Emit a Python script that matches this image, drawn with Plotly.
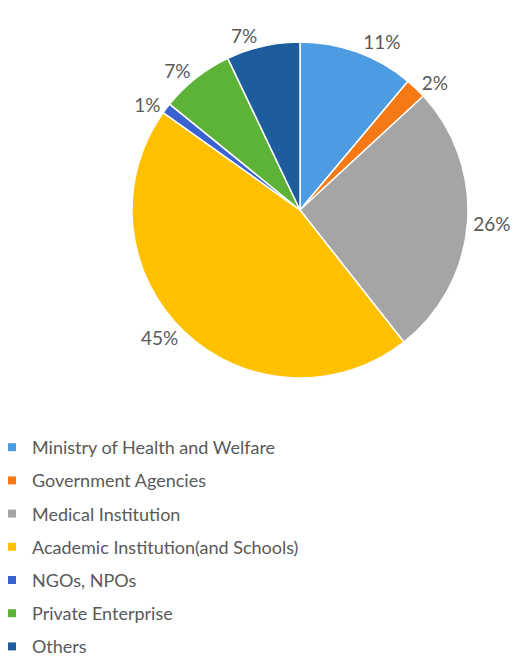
import plotly.graph_objects as go

# Share of respondents by type of organization (%)
labels = [
    "Ministry of Health and Welfare",
    "Government Agencies",
    "Medical Institution",
    "Academic Institution(and Schools)",
    "NGOs, NPOs",
    "Private Enterprise",
    "Others",
]
values = [11, 2, 26, 45, 1, 7, 7]
colors = ["#4D9BE0", "#F57A16", "#A5A5A5", "#FFC000", "#3A62D0", "#5DB338", "#1D5D9E"]

W, H = 524, 657
FONT = "Lato"
TEXT_COLOR = "#595959"

fig = go.Figure()

fig.add_trace(go.Pie(
    labels=labels,
    values=values,
    sort=False,
    direction="clockwise",
    rotation=0,
    marker=dict(colors=colors, line=dict(color="white", width=1.5)),
    texttemplate="%{value}%",
    textposition="outside",
    textfont=dict(family=FONT, size=19, color=TEXT_COLOR),
    showlegend=False,
    hoverinfo="label+value",
    domain=dict(x=[132 / W, 468 / W], y=[1 - 378 / H, 1 - 42 / H]),
))

# Legend entries, one group each so the rows can be spaced out
for i, (lab, col) in enumerate(zip(labels, colors)):
    fig.add_trace(go.Scatter(
        x=[None], y=[None],
        mode="markers",
        name=lab,
        legendgroup=f"g{i}",
        marker=dict(symbol="square", size=8, color=col),
        hoverinfo="skip",
    ))

fig.update_layout(
    width=W, height=H,
    margin=dict(l=0, r=0, t=0, b=0, autoexpand=False),
    paper_bgcolor="white",
    plot_bgcolor="white",
    xaxis=dict(visible=False),
    yaxis=dict(visible=False),
    font=dict(family=FONT, color=TEXT_COLOR),
    legend=dict(
        x=-8 / W, xanchor="left",
        y=1 - 429 / H, yanchor="top",
        font=dict(family=FONT, size=18, color=TEXT_COLOR),
        tracegroupgap=6.8,
        bgcolor="rgba(0,0,0,0)",
    ),
)

fig.write_html("out.html")
